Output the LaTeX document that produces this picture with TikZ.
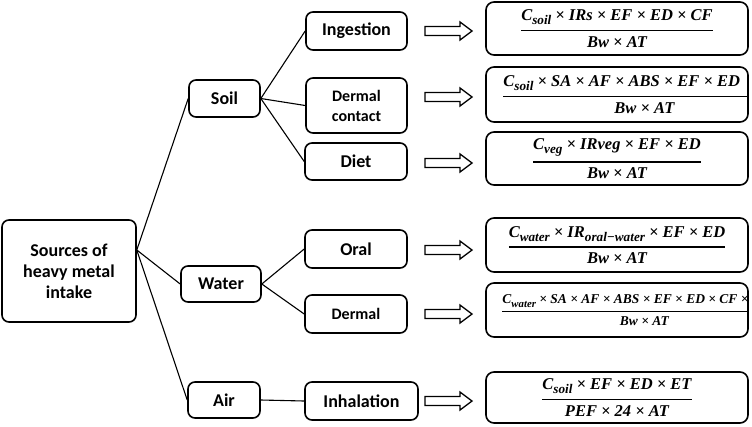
\documentclass[tikz,border=0pt]{standalone}
\usepackage{amsmath}
\usepackage{graphicx}
\usepackage{fontspec}
\setmainfont{Carlito}
\newfontfamily\formfont{Liberation Serif}
\newcommand{\FF}[2]{\genfrac{}{}{1.6pt}{0}{\text{#1}}{\text{#2}}}
\newcommand{\sub}[1]{\raisebox{-0.25em}{\scalebox{0.8}{#1}}}
\begin{document}
\begin{tikzpicture}[x=1pt,y=-1pt,
  box/.style={draw, line width=1.6pt, rounded corners=7pt, align=center, inner sep=0pt,
    font=\fontsize{18}{21}\selectfont\bfseries},
  smallbox/.style={box, font=\fontsize{16}{20}\selectfont\bfseries},
  fbox/.style={draw, line width=1.6pt, rounded corners=8pt, inner sep=0pt,
    minimum width=262pt, font=\fontsize{16.5}{19}\selectfont\formfont\bfseries\itshape},
  ftext/.style={inner sep=0pt, font=\fontsize{16.5}{19}\selectfont\formfont\bfseries\itshape},
  conn/.style={line width=1.1pt},
  blockarrow/.style={draw, line width=1.3pt, line join=miter}
]
\useasboundingbox (0,0) rectangle (752,426);

% main and second-level nodes
\node[box, minimum width=134pt, minimum height=102pt] (main) at (69,271) {Sources of\\heavy metal\\intake};
\node[box, minimum width=71pt, minimum height=37pt] (soil) at (224.5,98.5) {Soil};
\node[box, minimum width=80pt, minimum height=36pt] (water) at (221,284) {Water};
\node[box, minimum width=72pt, minimum height=36pt] (air) at (224,400) {Air};

% third level
\node[box, minimum width=101pt, minimum height=38pt] (ing) at (356.5,31) {Ingestion};
\node[smallbox, minimum width=101pt, minimum height=55pt] (derc) at (356.5,105.5) {Dermal\\contact};
\node[box, minimum width=102pt, minimum height=37pt] (diet) at (356,161.5) {Diet};
\node[box, minimum width=102pt, minimum height=38pt] (oral) at (356,249) {Oral};
\node[smallbox, minimum width=102pt, minimum height=38pt] (derw) at (356,314) {Dermal};
\node[box, minimum width=113pt, minimum height=38pt] (inh) at (361.5,401) {Inhalation};

% connectors
\coordinate (hub) at ([yshift=21pt]main.east);
\draw[conn] (hub) -- (soil.west);
\draw[conn] (hub) -- (water.west);
\draw[conn] (hub) -- (air.west);
\draw[conn] (soil.east) -- (ing.west);
\draw[conn] (soil.east) -- (derc.west);
\draw[conn] (soil.east) -- (diet.west);
\draw[conn] (water.east) -- (oral.west);
\draw[conn] (water.east) -- (derw.west);
\draw[conn] (air.east) -- (inh.west);

% hollow block arrows
\foreach \yy in {31,97,163,250,314,401}{
  \draw[blockarrow] (425,\yy-4.5) -- (460,\yy-4.5) -- (460,\yy-9) -- (472,\yy)
    -- (460,\yy+9) -- (460,\yy+4.5) -- (425,\yy+4.5) -- cycle;
}

% formula boxes
\node[fbox, minimum height=53pt] (f1) at (617,28.5)
  {$\FF{C\sub{soil} × IRs × EF × ED × CF}{Bw × AT}$};
\node[fbox, minimum height=55pt] (f2) at (617,94.5) {};
\begin{scope}
  \clip (486,67) rectangle (748,122);
  \node[ftext, anchor=west] (f2t) at (502,94.5)
    {$\FF{\makebox[282pt][l]{C\sub{soil} × SA × AF × ABS × EF × ED}}{Bw × AT}$};
\end{scope}
\node[fbox, minimum height=53pt] (f3) at (617,158.5)
  {$\FF{C\sub{veg} × IRveg × EF × ED}{Bw × AT}$};
\node[fbox, minimum height=54pt] (f4) at (617,245)
  {$\FF{C\sub{water} × IR\sub{oral−water} × EF × ED}{Bw × AT}$};
\node[fbox, minimum height=54pt] (f5) at (617,310) {};
\begin{scope}
  \clip (486,283) rectangle (748,337);
  \node[inner sep=0pt, anchor=west, font=\fontsize{13.5}{16}\selectfont\formfont\bfseries\itshape] (f5t) at (501,310)
    {$\genfrac{}{}{1.3pt}{0}{\text{\makebox[284pt][l]{C\sub{water} × SA × AF × ABS × EF × ED × CF × ET}}}{\text{Bw × AT}}$};
\end{scope}
\node[fbox, minimum height=51pt] (f6) at (617,397.5)
  {$\FF{C\sub{soil} × EF × ED × ET}{PEF × 24 × AT}$};
\end{tikzpicture}
\end{document}
